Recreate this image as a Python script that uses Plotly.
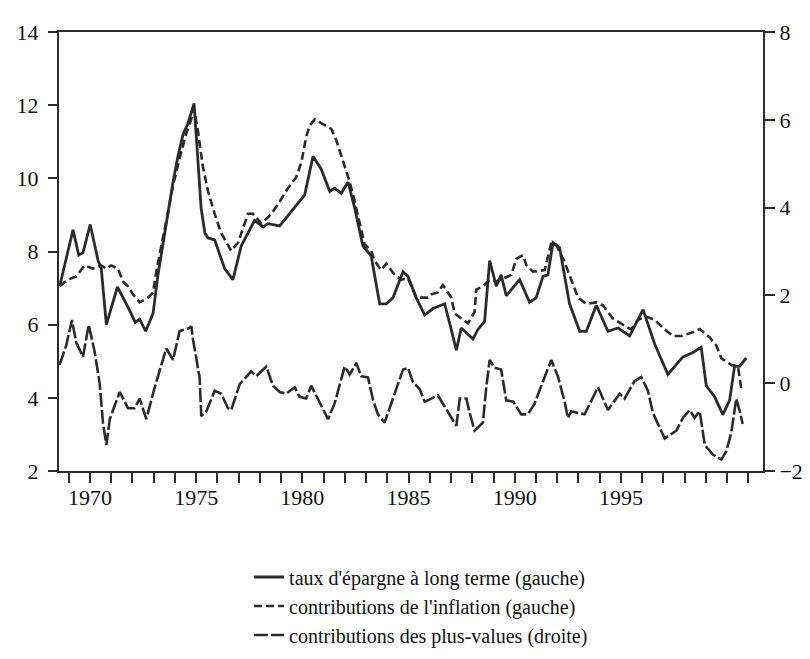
import plotly.graph_objects as go

# taux d'épargne à long terme (axe gauche)
epargne_annee = [
    1968.57, 1969.20, 1969.47, 1969.67, 1970.01, 1970.38, 1970.53, 1970.77, 1971.29, 1971.79,
    1972.13, 1972.34, 1972.62, 1972.97, 1973.20, 1973.52, 1973.67, 1973.91, 1974.14, 1974.38,
    1974.61, 1974.90, 1975.08, 1975.23, 1975.41, 1975.56, 1975.87, 1976.34, 1976.73, 1977.12,
    1977.75, 1978.15, 1978.38, 1978.93, 1980.11, 1980.50, 1980.89, 1981.29, 1981.52, 1981.83,
    1982.15, 1982.46, 1982.85, 1983.24, 1983.56, 1983.64, 1983.95, 1984.27, 1984.74, 1984.97,
    1985.36, 1985.76, 1986.15, 1986.70, 1987.01, 1987.25, 1987.48, 1988.03, 1988.27, 1988.58,
    1988.82, 1989.13, 1989.36, 1989.60, 1990.23, 1990.70, 1991.01, 1991.33, 1991.56, 1991.80,
    1992.11, 1992.58, 1993.06, 1993.37, 1993.84, 1994.39, 1994.86, 1995.41, 1996.04, 1996.59,
    1997.21, 1997.92, 1998.39, 1998.78, 1999.02, 1999.41, 1999.80, 2000.12, 2000.35, 2000.59,
    2000.90,
]
epargne = [
    7.05, 8.59, 7.90, 7.97, 8.74, 7.75, 7.53, 6.00, 7.03, 6.48,
    6.06, 6.15, 5.82, 6.31, 7.36, 8.50, 9.11, 9.90, 10.60, 11.20,
    11.50, 12.05, 10.50, 9.20, 8.50, 8.37, 8.32, 7.53, 7.23, 8.15,
    8.85, 8.67, 8.76, 8.70, 9.55, 10.60, 10.25, 9.64, 9.73, 9.59,
    9.90, 9.20, 8.15, 7.88, 6.83, 6.57, 6.57, 6.74, 7.45, 7.32,
    6.74, 6.26, 6.44, 6.57, 5.87, 5.30, 5.91, 5.61, 5.87, 6.09,
    7.75, 7.05, 7.36, 6.79, 7.23, 6.61, 6.74, 7.32, 7.36, 8.24,
    8.11, 6.57, 5.82, 5.82, 6.53, 5.82, 5.91, 5.69, 6.41, 5.47,
    4.64, 5.12, 5.24, 5.38, 4.33, 4.03, 3.54, 3.94, 4.86, 4.86,
    5.09,
]

# contributions de l'inflation (axe gauche)
inflation_annee = [
    1968.57, 1968.96, 1969.35, 1969.75, 1970.14, 1970.53, 1970.77, 1971.00, 1971.32, 1971.55,
    1971.79, 1972.02, 1972.34, 1972.73, 1972.97, 1973.12, 1973.58, 1973.91, 1974.24, 1974.52,
    1974.76, 1974.90, 1975.08, 1975.32, 1975.56, 1975.87, 1976.18, 1976.65, 1976.97, 1977.44,
    1977.67, 1978.07, 1978.54, 1978.85, 1979.32, 1979.71, 1979.95, 1980.18, 1980.34, 1980.58,
    1980.97, 1981.36, 1981.60, 1981.83, 1981.99, 1982.23, 1982.46, 1982.70, 1982.93, 1983.24,
    1983.40, 1983.71, 1983.95, 1984.35, 1984.66, 1984.97, 1985.36, 1985.91, 1986.07, 1986.38,
    1986.62, 1987.01, 1987.17, 1987.48, 1987.80, 1988.11, 1988.19, 1988.50, 1988.82, 1989.13,
    1989.52, 1989.84, 1990.07, 1990.39, 1990.55, 1990.86, 1991.41, 1991.72, 1991.95, 1992.35,
    1992.66, 1992.98, 1993.37, 1993.84, 1994.15, 1994.62, 1995.09, 1995.48, 1995.80, 1996.19,
    1996.59, 1997.06, 1997.45, 1997.85, 1998.32, 1998.71, 1999.18, 1999.49, 1999.73, 2000.20,
    2000.51, 2000.67,
]
inflation = [
    7.05, 7.23, 7.32, 7.62, 7.53, 7.62, 7.53, 7.62, 7.53, 7.18,
    7.05, 6.83, 6.61, 6.74, 6.88, 7.45, 8.80, 9.80, 10.60, 11.20,
    11.60, 11.90, 11.30, 10.30, 9.64, 9.03, 8.50, 8.02, 8.24, 9.03,
    9.03, 8.76, 9.03, 9.29, 9.73, 10.03, 10.43, 11.13, 11.44, 11.61,
    11.48, 11.35, 11.04, 10.60, 10.34, 9.90, 9.38, 8.76, 8.19, 8.02,
    7.75, 7.49, 7.67, 7.36, 7.23, 7.27, 6.74, 6.74, 6.83, 6.88,
    7.08, 6.74, 6.31, 6.17, 6.04, 6.35, 6.96, 7.05, 7.23, 7.18,
    7.27, 7.36, 7.80, 7.90, 7.62, 7.45, 7.49, 8.24, 8.19, 7.71,
    7.23, 6.74, 6.57, 6.61, 6.53, 6.17, 6.00, 5.87, 6.13, 6.22,
    6.13, 5.87, 5.69, 5.69, 5.78, 5.88, 5.65, 5.43, 5.08, 4.90,
    4.86, 4.24,
]

# contributions des plus-values (axe droit)
plus_values_annee = [
    1968.57, 1968.88, 1969.15, 1969.35, 1969.67, 1969.94, 1970.22, 1970.46, 1970.61, 1970.77,
    1970.93, 1971.40, 1971.79, 1972.10, 1972.34, 1972.65, 1973.05, 1973.59, 1973.91, 1974.22,
    1974.69, 1974.77, 1974.85, 1975.16, 1975.24, 1975.48, 1975.87, 1976.18, 1976.50, 1976.65,
    1977.05, 1977.59, 1977.83, 1978.30, 1978.62, 1978.93, 1979.24, 1979.64, 1979.87, 1980.18,
    1980.42, 1980.81, 1981.21, 1981.52, 1981.83, 1981.99, 1982.23, 1982.54, 1982.77, 1983.09,
    1983.33, 1983.56, 1983.87, 1984.19, 1984.50, 1984.74, 1984.97, 1985.21, 1985.52, 1985.76,
    1986.07, 1986.38, 1986.70, 1987.01, 1987.25, 1987.41, 1987.72, 1987.88, 1988.11, 1988.50,
    1988.66, 1988.82, 1989.05, 1989.36, 1989.60, 1989.92, 1990.31, 1990.62, 1990.94, 1991.25,
    1991.72, 1992.03, 1992.35, 1992.50, 1992.66, 1993.29, 1993.60, 1993.92, 1994.39, 1994.70,
    1994.94, 1995.17, 1995.64, 1995.96, 1996.27, 1996.51, 1997.06, 1997.61, 1997.92, 1998.24,
    1998.47, 1998.71, 1998.95, 1999.34, 1999.73, 1999.96, 2000.20, 2000.43, 2000.60, 2000.73,
]
plus_values = [
    0.42, 0.86, 1.44, 0.93, 0.60, 1.33, 0.71, -0.02, -0.90, -1.41,
    -0.82, -0.20, -0.57, -0.57, -0.35, -0.82, -0.09, 0.79, 0.53, 1.19,
    1.26, 1.30, 1.00, 0.13, -0.75, -0.64, -0.17, -0.24, -0.57, -0.61,
    -0.02, 0.27, 0.16, 0.38, -0.06, -0.20, -0.24, -0.09, -0.31, -0.35,
    -0.06, -0.42, -0.82, -0.46, 0.09, 0.38, 0.20, 0.46, 0.16, 0.13,
    -0.39, -0.71, -0.90, -0.46, -0.02, 0.31, 0.35, 0.02, -0.13, -0.42,
    -0.35, -0.28, -0.53, -0.79, -0.97, -0.35, -0.35, -0.68, -1.08, -0.90,
    -0.09, 0.53, 0.35, 0.31, -0.39, -0.42, -0.71, -0.71, -0.46, -0.06,
    0.53, 0.16, -0.42, -0.79, -0.64, -0.71, -0.39, -0.09, -0.61, -0.39,
    -0.24, -0.35, 0.05, 0.14, -0.17, -0.68, -1.26, -1.08, -0.79, -0.61,
    -0.79, -0.64, -1.41, -1.63, -1.74, -1.55, -1.12, -0.35, -0.64, -0.93,
]

annees_etiquettes = [1970, 1975, 1980, 1985, 1990, 1995]

INK = "#2b2b2b"
FONT = "Liberation Serif"

fig = go.Figure()
fig.add_trace(go.Scatter(
    x=epargne_annee, y=epargne, mode="lines",
    name="taux d'épargne à long terme (gauche)",
    line=dict(color=INK, width=2.8),
))
fig.add_trace(go.Scatter(
    x=inflation_annee, y=inflation, mode="lines",
    name="contributions de l'inflation (gauche)",
    line=dict(color=INK, width=2.6, dash="8px,4px"),
))
fig.add_trace(go.Scatter(
    x=plus_values_annee, y=plus_values, mode="lines", yaxis="y2",
    name="contributions des plus-values (droite)",
    line=dict(color=INK, width=2.6, dash="14px,3px"),
))

axis_style = dict(
    showline=True, linecolor=INK, linewidth=2,
    ticks="outside", tickwidth=1.5, tickcolor=INK,
    showgrid=False, zeroline=False, automargin=False,
    tickfont=dict(size=22),
)

fig.update_layout(
    width=810, height=659,
    margin=dict(l=51, r=55, t=24, b=179),
    paper_bgcolor="white", plot_bgcolor="white",
    font=dict(family=FONT, size=20, color="#111111"),
    xaxis=dict(
        axis_style, range=[1968.54, 2001.69], tickvals=annees_etiquettes,
        mirror=True, ticklen=10, ticklabelstandoff=-4,
        minor=dict(dtick=1, tick0=1970, ticks="outside", ticklen=10, tickwidth=1.5, tickcolor=INK),
    ),
    yaxis=dict(axis_style, range=[2, 14], dtick=2, ticklen=9, ticklabelstandoff=5),
    yaxis2=dict(axis_style, range=[-2, 8], dtick=2, ticklen=10, overlaying="y", side="right"),
    showlegend=True,
    legend=dict(
        x=0.27, y=-0.197, xanchor="left", yanchor="top",
        bgcolor="rgba(0,0,0,0)", font=dict(size=20),
        tracegroupgap=0,
    ),
)

fig.write_html("out.html")
